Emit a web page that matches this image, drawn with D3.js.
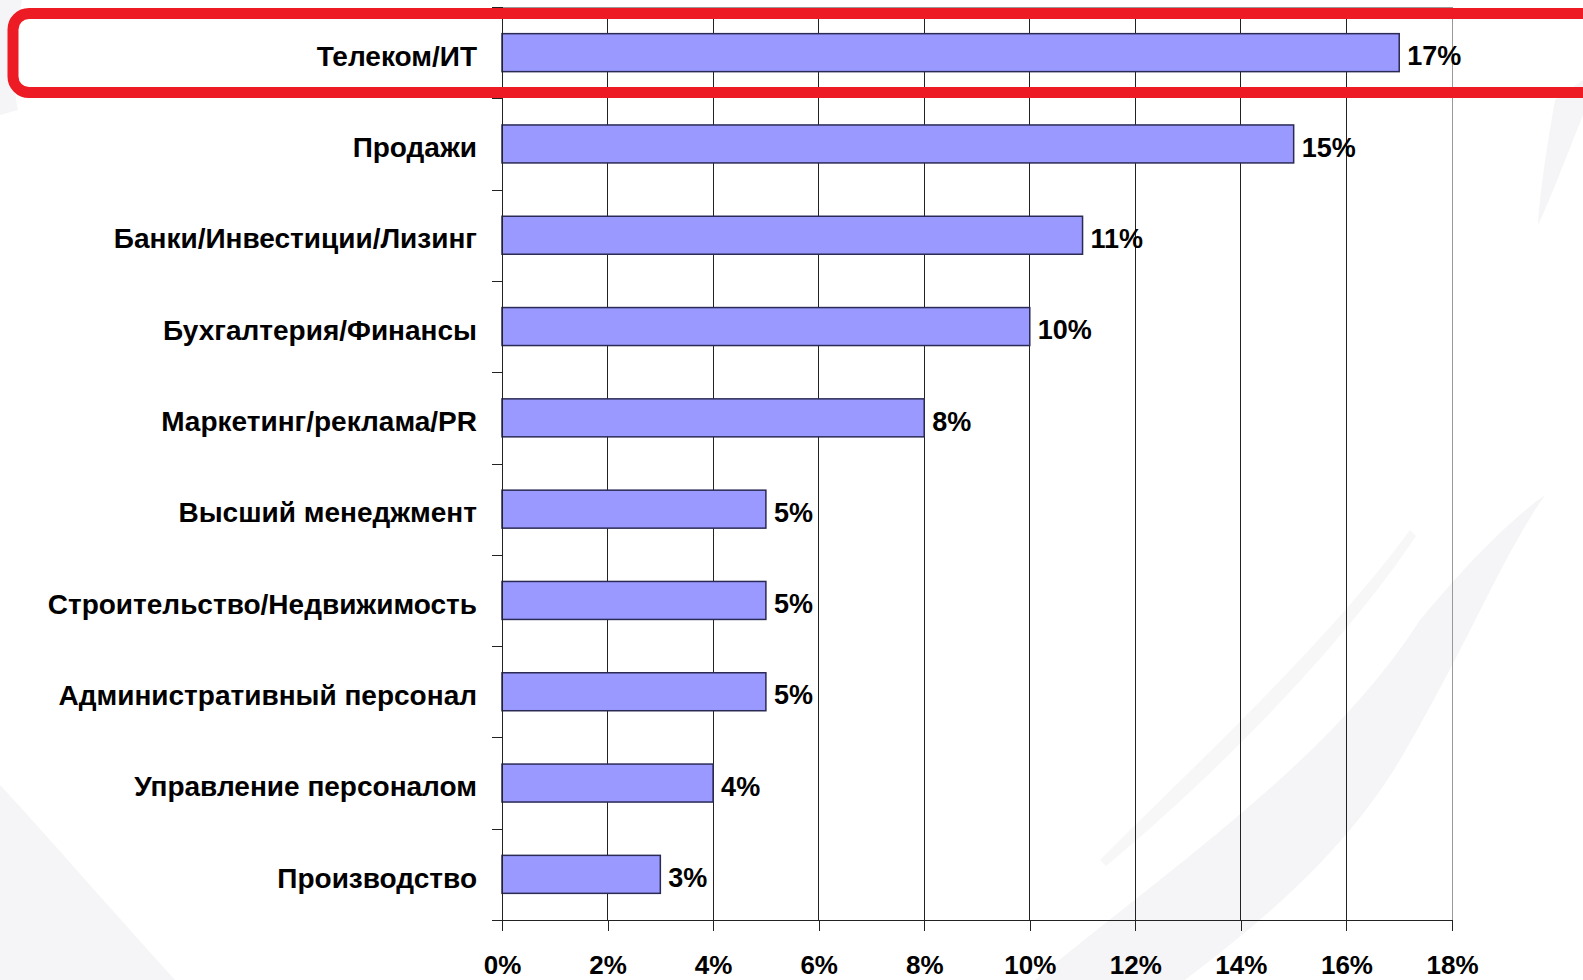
<!DOCTYPE html>
<html lang="ru">

<head>
    <meta charset="UTF-8">
    <title>Отрасли</title>
    <style>
        body {
            margin: 0;
            background: #fff;
        }

        .chart text {
            font-family: "Liberation Sans", Arial, sans-serif;
            font-weight: bold;
            fill: #000;
        }

        .grid line {
            stroke: #222;
            shape-rendering: crispEdges;
        }

        .axis path,
        .axis line {
            fill: none;
            stroke: #222;
            shape-rendering: crispEdges;
        }
    </style>
</head>

<body>
    <svg class="chart"></svg>
    <script src="https://d3js.org/d3.v7.min.js"></script>
    <script>
        const categories = ["Телеком/ИТ", "Продажи", "Банки/Инвестиции/Лизинг", "Бухгалтерия/Финансы",
            "Маркетинг/реклама/PR", "Высший менеджмент", "Строительство/Недвижимость",
            "Административный персонал", "Управление персоналом", "Производство"];
        const values = [17, 15, 11, 10, 8, 5, 5, 5, 4, 3];
        const xTicks = [0, 2, 4, 6, 8, 10, 12, 14, 16, 18];

        let margin = { top: 7, right: 131, bottom: 60, left: 502 },
            W = 1583, H = 980,
            width = W - margin.left - margin.right,
            height = H - margin.top - margin.bottom;

        let svg = d3.select(".chart")
            .attr("width", W)
            .attr("height", H);

        // faint background watermark
        let wm = svg.append("g").attr("fill", "#f5f5f7");
        wm.append("path").attr("d", "M0,0 L22,0 C14,40 12,80 18,110 L0,115 Z");
        wm.append("path").attr("d", "M0,785 C60,850 120,920 175,980 L0,980 Z");
        wm.append("path").attr("d", "M1035,980 C1180,860 1330,760 1420,620 C1470,560 1510,520 1545,495 C1500,560 1470,640 1400,760 C1340,860 1250,930 1185,980 Z");
        wm.append("path").attr("d", "M1100,860 C1200,760 1330,640 1410,530 L1416,536 C1340,650 1210,780 1106,866 Z").attr("fill", "#f7f7f8");
        wm.append("path").attr("d", "M1555,100 L1583,80 L1583,115 C1565,160 1550,200 1538,225 C1540,190 1548,140 1555,100 Z");

        let chart = svg.append("g")
            .attr("transform", `translate(${margin.left},${margin.top})`);

        let x = d3.scaleLinear()
            .domain([0, 18])
            .range([0, width]);

        let y = d3.scaleBand()
            .domain(categories)
            .range([0, height])
            .paddingInner(0.584)
            .paddingOuter(0.292);

        // vertical gridlines
        chart.append("g")
            .attr("class", "grid")
            .selectAll("line")
            .data(xTicks.slice(1))
            .enter().append("line")
            .attr("x1", d => x(d))
            .attr("x2", d => x(d))
            .attr("y1", 0)
            .attr("y2", height)
            .style("stroke", d => d === 18 ? "#999" : "#222");

        // top border
        chart.append("line")
            .attr("x1", 0).attr("x2", width)
            .attr("y1", 0).attr("y2", 0)
            .style("stroke", "#999")
            .style("shape-rendering", "crispEdges");

        // bars
        chart.selectAll(".bar")
            .data(values)
            .enter().append("rect")
            .attr("class", "bar")
            .attr("x", 0)
            .attr("y", (d, i) => y(categories[i]))
            .attr("width", d => x(d))
            .attr("height", y.bandwidth())
            .attr("fill", "#9999ff")
            .attr("stroke", "#2a2a55")
            .attr("stroke-width", 1.5);

        // value labels
        chart.selectAll(".val")
            .data(values)
            .enter().append("text")
            .attr("class", "val")
            .attr("x", d => x(d) + 8)
            .attr("y", (d, i) => y(categories[i]) + y.bandwidth() / 2)
            .attr("dy", "0.47em")
            .style("font-size", "27px")
            .text(d => d + "%");

        // y axis: ticks at band boundaries
        let yb = d3.scaleLinear().domain([0, categories.length]).range([0, height]);
        let yAxis = d3.axisLeft(yb)
            .tickValues(d3.range(0, categories.length + 1))
            .tickSize(10)
            .tickFormat("");
        chart.append("g")
            .attr("class", "axis axis--y")
            .call(yAxis);

        // category labels
        chart.selectAll(".cat")
            .data(categories)
            .enter().append("text")
            .attr("class", "cat")
            .attr("x", -25)
            .attr("y", d => y(d) + y.bandwidth() / 2)
            .attr("dy", "0.47em")
            .attr("text-anchor", "end")
            .style("font-size", "28px")
            .text(d => d);

        // x axis
        let xAxis = d3.axisBottom(x)
            .tickValues(xTicks)
            .tickSize(11)
            .tickSizeOuter(0)
            .tickFormat(d => d + "%");
        let gx = chart.append("g")
            .attr("class", "axis axis--x")
            .attr("transform", `translate(0,${height})`)
            .call(xAxis);
        gx.selectAll("text")
            .attr("y", 54)
            .attr("dy", 0)
            .style("font-size", "26px")
            .style("font-family", "'Liberation Sans', Arial, sans-serif")
            .style("font-weight", "bold");

        // highlight frame
        svg.append("rect")
            .attr("x", 13)
            .attr("y", 13.5)
            .attr("width", 1620)
            .attr("height", 79)
            .attr("rx", 16)
            .attr("fill", "none")
            .attr("stroke", "#ed1c24")
            .attr("stroke-width", 11);
    </script>
</body>

</html>
